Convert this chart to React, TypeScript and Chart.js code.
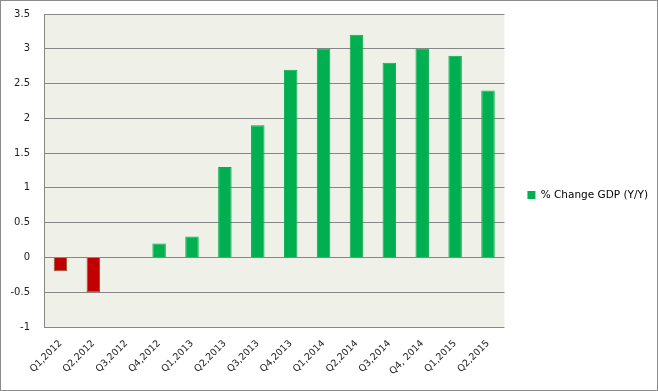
import React, { useEffect, useRef } from "react";
import { Chart, registerables } from "chart.js";

Chart.register(...registerables);

const categories = [
  "Q1,2012", "Q2,2012", "Q3,2012", "Q4,2012", "Q1,2013", "Q2,2013", "Q3,2013",
  "Q4,2013", "Q1,2014", "Q2,2014", "Q3,2014", "Q4, 2014", "Q1,2015", "Q2,2015",
];
const gdpChange = [-0.2, -0.5, 0, 0.2, 0.3, 1.3, 1.9, 2.7, 3.0, 3.2, 2.8, 3.0, 2.9, 2.4];
const seriesLabel = "% Change GDP (Y/Y)";
const yMin = -1;
const yMax = 3.5;
const yStep = 0.5;

const GREEN = "#00B050";
const RED = "#C00000";

const bgPlugin = {
  id: "bgPlugin",
  beforeDraw(chart: any) {
    const { ctx, chartArea } = chart;
    ctx.save();
    ctx.fillStyle = "#ffffff";
    ctx.fillRect(0, 0, chart.width, chart.height);
    ctx.fillStyle = "#EFF1E8";
    ctx.fillRect(chartArea.left, chartArea.top, chartArea.right - chartArea.left, chartArea.bottom - chartArea.top);
    ctx.restore();
  },
  afterDraw(chart: any) {
    const { ctx } = chart;
    ctx.save();
    ctx.strokeStyle = "#8C8C8C";
    ctx.lineWidth = 1;
    ctx.strokeRect(0.5, 0.5, chart.width - 1, chart.height - 1);
    ctx.restore();
  },
};

export default function App() {
  const ref = useRef<HTMLCanvasElement | null>(null);
  useEffect(() => {
    document.body.style.margin = "0";
    if (!ref.current) return;
    const chart = new Chart(ref.current, {
      type: "bar",
      data: {
        labels: categories,
        datasets: [
          {
            label: seriesLabel,
            data: gdpChange,
            backgroundColor: gdpChange.map((v) => (v < 0 ? RED : GREEN)),
            borderColor: gdpChange.map((v) => (v < 0 ? "#8A5A2E" : "#0AAA4E")),
            borderWidth: 1,
            categoryPercentage: 1,
            barPercentage: 0.41,
          },
        ],
      },
      options: {
        animation: false,
        responsive: false,
        devicePixelRatio: 1,
        layout: { padding: { top: 14, bottom: 15, left: 0, right: 0 } },
        plugins: {
          tooltip: { enabled: false },
          legend: {
            position: "right",
            maxWidth: 155,
            labels: {
              boxWidth: 8,
              boxHeight: 8,
              padding: 23,
              color: "#222",
              font: { family: "DejaVu Sans", size: 10.5 },
              generateLabels: () => [
                { text: seriesLabel, fillStyle: GREEN, strokeStyle: GREEN, lineWidth: 0, hidden: false, datasetIndex: 0 } as any,
              ],
            },
          },
        },
        scales: {
          x: {
            grid: { display: false, drawTicks: false },
            border: { display: false },
            ticks: {
              color: "#222",
              font: { family: "DejaVu Sans", size: 9.5 },
              maxRotation: 45,
              minRotation: 45,
              autoSkip: false,
              padding: 11,
            },
            afterFit: (s: any) => {
              s.height = 49;
            },
          },
          y: {
            min: yMin,
            max: yMax,
            grid: { color: "#868686", drawTicks: false, lineWidth: 1 },
            border: { display: true, color: "#868686" },
            ticks: {
              stepSize: yStep,
              color: "#222",
              font: { family: "DejaVu Sans", size: 10 },
              padding: 14,
              callback: (v: any) => String(v),
            },
            afterFit: (s: any) => {
              s.width = 44;
              s.paddingTop = 0;
              s.paddingBottom = 0;
            },
          },
        },
      },
      plugins: [bgPlugin],
    });
    return () => chart.destroy();
  }, []);
  return <canvas ref={ref} width={658} height={391} style={{ display: "block" }} />;
}
